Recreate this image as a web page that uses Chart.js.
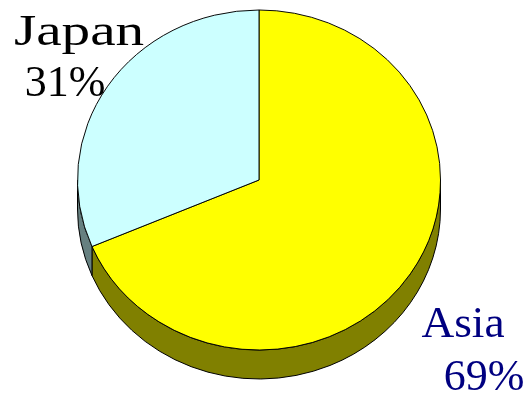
<!DOCTYPE html>
<html>
<head>
<meta charset="utf-8">
<style>
  html, body { margin: 0; padding: 0; background: #fff; }
  #wrap { width: 528px; height: 394px; }
</style>
<script src="https://cdn.jsdelivr.net/npm/chart.js@4"></script>
</head>
<body>
<div id="wrap"><canvas id="pie" width="528" height="394"></canvas></div>
<script>
// Data
const categories = ['Asia', 'Japan'];
const shares = [68.6, 31.4];
const sliceColors = ['#ffff00', '#ccffff'];
const wallColors = ['#808000', '#668080'];
const labelColors = ['#000080', '#000000'];

// Flattened pie look
const pieCenterY = 180;
const radiusY = 170;
const wallDepth = 29;

// Two-line labels: name x, name baseline, name stretch, percent x, percent baseline, percent stretch
const labelSpots = [
  [463, 337, 1.03, 484, 390, 1.0],
  [79, 45, 1.3, 65, 96, 1.0],
];

function ellipseInfo(chart) {
  const arc = chart.getDatasetMeta(0).data[0];
  return { cx: arc.x, cy: arc.y, rx: arc.outerRadius };
}

const flatPie = {
  id: 'flatPie',
  beforeDatasetsDraw(chart) {
    const ctx = chart.ctx;
    const { cx, cy, rx } = ellipseInfo(chart);

    // side wall, only the front half of the rim shows
    chart.getDatasetMeta(0).data.forEach((arc, i) => {
      const from = Math.max(arc.startAngle, 0);
      const to = Math.min(arc.endAngle, Math.PI);
      if (to <= from) return;
      ctx.beginPath();
      ctx.ellipse(cx, pieCenterY, rx, radiusY, 0, from, to);
      ctx.ellipse(cx, pieCenterY + wallDepth, rx, radiusY, 0, to, from, true);
      ctx.closePath();
      ctx.fillStyle = wallColors[i];
      ctx.fill();
      ctx.strokeStyle = '#000';
      ctx.lineWidth = 1;
      ctx.stroke();
    });

    // squash the real arcs into the ellipse
    ctx.save();
    ctx.translate(cx, pieCenterY);
    ctx.scale(1, radiusY / rx);
    ctx.translate(-cx, -cy);
  },
  afterDatasetsDraw(chart) {
    chart.ctx.restore();
  },
  afterDraw(chart) {
    const ctx = chart.ctx;
    const drawWide = (text, x, y, stretch) => {
      ctx.save();
      ctx.translate(x, y);
      ctx.scale(stretch, 1);
      ctx.fillText(text, 0, 0);
      ctx.restore();
    };
    ctx.save();
    ctx.font = '44px "Liberation Serif"';
    ctx.textAlign = 'center';
    ctx.textBaseline = 'alphabetic';
    categories.forEach((name, i) => {
      const s = labelSpots[i];
      ctx.fillStyle = labelColors[i];
      drawWide(name, s[0], s[1], s[2]);
      drawWide(Math.round(shares[i]) + '%', s[3], s[4], s[5]);
    });
    ctx.restore();
  },
};

new Chart(document.getElementById('pie'), {
  type: 'pie',
  data: {
    labels: categories,
    datasets: [{
      data: shares,
      backgroundColor: sliceColors,
      borderColor: '#000',
      borderWidth: 1,
      clip: false,
    }],
  },
  options: {
    responsive: false,
    animation: false,
    layout: { padding: { left: 77, right: 87, top: 0, bottom: 29 } },
    plugins: { legend: { display: false }, tooltip: { enabled: false } },
  },
  plugins: [flatPie],
});
</script>
</body>
</html>
